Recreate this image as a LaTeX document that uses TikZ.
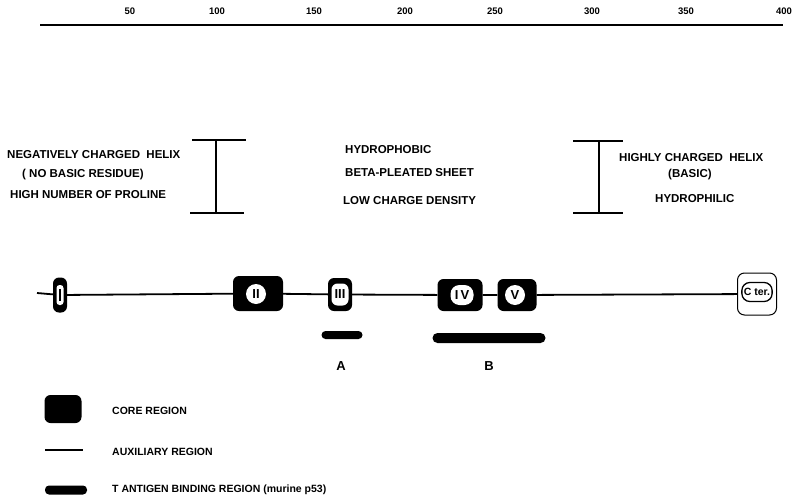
\documentclass[tikz,border=0pt]{standalone}
\usepackage{fontspec}
\setmainfont{Liberation Sans}
\usepackage{tikz}
\usetikzlibrary{positioning}
\tikzset{
  core/.style={fill=black,rounded corners=6pt,inner sep=0pt},
  tag/.style={fill=white,rounded corners=8pt,inner sep=1pt,
    font=\fontsize{13}{13}\selectfont\bfseries},
  ctag/.style={circle,fill=white,inner sep=0pt,minimum size=20pt,
    font=\fontsize{13}{13}\selectfont\bfseries},
  tbar/.style={fill=black,rounded corners=4pt,inner sep=0pt,minimum height=8pt},
  backbone/.style={line width=1.8pt},
  ibeam/.style={line width=1.6pt},
  note/.style={anchor=west,inner sep=0pt,font=\fontsize{11.5}{13}\selectfont\bfseries},
  legendtext/.style={anchor=west,inner sep=0pt,font=\fontsize{10.5}{12}\selectfont\bfseries},
  tick/.style={inner sep=0pt,font=\fontsize{9.5}{10}\selectfont\bfseries}
}

\begin{document}
\begin{tikzpicture}[x=1pt,y=-1pt]
  \useasboundingbox (0,0) rectangle (796,498);
  % residue scale
  \draw[backbone] (40,25) -- (783,25);
  \foreach \v/\x in {50/130,100/217,150/314,200/405,250/495,300/592,350/686,400/784}
    \node[tick] (n\v) at (\x,11) {\v};

  % I-beams
  \draw[ibeam] (192,140) -- (246,140) (216,140) -- (216,213) (190,213) -- (244,213);
  \draw[ibeam] (573,141) -- (623,141) (599,141) -- (599,213) (573,213) -- (623,213);

  % region notes
  \node[note] (neg1) at (7,155) {NEGATIVELY CHARGED\ \ HELIX};
  \node[note] (neg2) at (22,175) {( NO BASIC RESIDUE)};
  \node[note] (neg3) at (10,195) {HIGH NUMBER OF PROLINE};
  \node[note] (hyd1) at (345,150) {HYDROPHOBIC};
  \node[note] (hyd2) at (345,173) {BETA-PLEATED SHEET};
  \node[note] (hyd3) at (343,201) {LOW CHARGE DENSITY};
  \node[note] (bas1) at (619,158) {HIGHLY CHARGED\ \ HELIX};
  \node[note] (bas2) at (668,175) {(BASIC)};
  \node[note] (bas3) at (655,199) {HYDROPHILIC};

  % core regions along the chain
  \coordinate (nter) at (37,293);
  \node[core,rounded corners=6pt,minimum width=14pt,minimum height=35pt] (b1) at (60,295) {};
  \node[fill=white,rounded corners=3pt,inner sep=0pt,minimum width=7pt,minimum height=20pt] (t1) at (b1) {};
  \draw[line width=1.8pt] (t1.north) ++(0,4) -- ++(0,12);
  \node[core,minimum width=50pt,minimum height=35pt] (b2) at (258,293.5) {};
  \node[ctag] (t2) at (256,294) {II};
  \node[core,minimum width=24pt,minimum height=33pt] (b3) at (340,294.5) {};
  \node[tag,rounded corners=6pt,minimum width=17pt,minimum height=22pt,inner sep=0pt] (t3) at (b3) {III};
  \node[core,minimum width=45pt,minimum height=32pt] (b4) at (460,295) {};
  \node[tag,rounded corners=9pt,minimum width=23pt,minimum height=20pt] (t4) at (462,295) {I\,V};
  \node[core,minimum width=39pt,minimum height=32pt] (b5) at (517,295) {};
  \node[ctag] (t5) at (515,295) {V};
  \node[draw,line width=1pt,rounded corners=7pt,minimum width=39pt,minimum height=42pt] (cter) at (757,294) {};
  \node[draw,line width=1.3pt,rounded corners=8pt,inner sep=2pt,minimum height=19pt,
    font=\fontsize{10.5}{10}\selectfont\bfseries] (tc) at (757,292) {C ter.};
  \draw[backbone] (nter) -- (b1) -- (b2) -- (b3) -- (b4) -- (b5) -- (cter);

  % T antigen binding regions
  \node[tbar,minimum width=41pt] (barA) at (342,335) {};
  \node[tbar,minimum width=113pt,minimum height=10pt,rounded corners=5pt] (barB) at (489,338) {};
  \node[font=\fontsize{13}{13}\selectfont\bfseries] (labA) at (341,366) {A};
  \node[font=\fontsize{13}{13}\selectfont\bfseries] (labB) at (489,366) {B};

  % legend
  \node[core,minimum width=37pt,minimum height=28pt] (keycore) at (63,409) {};
  \node[legendtext] (txtcore) at (112,411) {CORE REGION};
  \coordinate (keyl) at (45,450);
  \coordinate (keyr) at (83,450);
  \draw[backbone] (keyl) -- (keyr);
  \node[legendtext] (txtaux) at (112,452) {AUXILIARY REGION};
  \node[tbar,minimum width=42pt,minimum height=9pt] (keybar) at (66,490) {};
  \node[legendtext] (txtbar) at (112,490) {T ANTIGEN BINDING REGION (murine p53)};
\end{tikzpicture}
\end{document}
